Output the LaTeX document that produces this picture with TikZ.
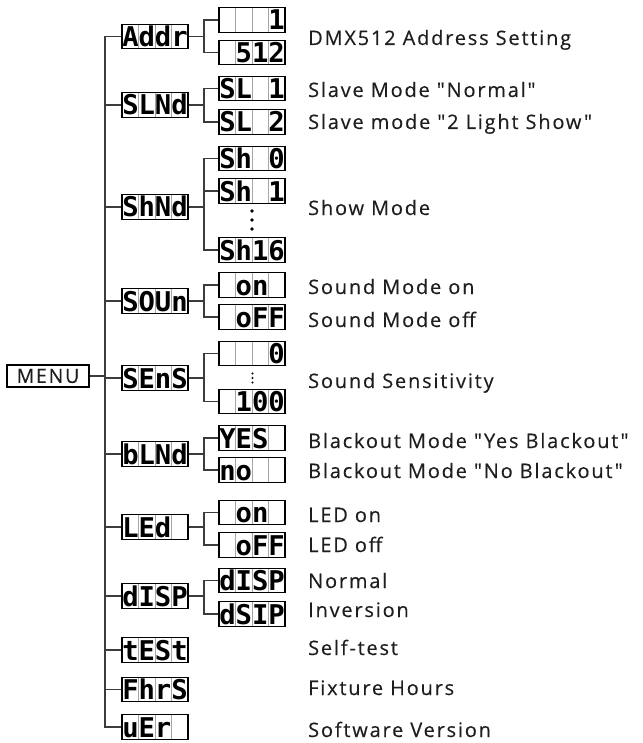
\documentclass[tikz,border=0pt]{standalone}
\usepackage{fontspec}
\setmainfont{Open Sans}
\newfontfamily\lcdfont{DejaVu Sans Mono}
\newfontfamily\lblfont{Open Sans}[LetterSpace=9,FakeBold=0.3]
\usetikzlibrary{calc}
\definecolor{ink}{HTML}{1E1E1E}
\definecolor{wire}{HTML}{3C3C3C}
\newcommand\bk{\hphantom{0}}
\begin{document}
\begin{tikzpicture}[x=1pt,y=-1pt,
  lcdbox/.style={draw=black, line width=1.3pt, fill=white,
    minimum width=66pt, minimum height=24.5pt, inner sep=0pt,
    text height=20pt, text depth=0pt,
    font=\lcdfont\bfseries\fontsize{27.2}{27.2}\selectfont,
    path picture={\foreach \k in {1,2,3}{\draw[black!35,line width=0.7pt]
      ($(path picture bounding box.south west)!\k/4!(path picture bounding box.south east)$) --
      ($(path picture bounding box.north west)!\k/4!(path picture bounding box.north east)$);}}},
  lbl/.style={anchor=base west, inner sep=0pt, text=ink,
    font=\lblfont\fontsize{20}{22}\selectfont},
  wire/.style={draw=wire, line width=1.3pt}]
\useasboundingbox (0,0) rectangle (642,743);
% menu
\node[draw=black, line width=1.2pt, minimum width=82pt, minimum height=22pt,
  inner sep=0pt, text=ink, font=\lblfont\fontsize{19.5}{21}\selectfont] (menu) at (48,376) {MENU};
\coordinate (T) at (105,0);
\coordinate (B) at (204,0);
% main items
\node[lcdbox] (addr) at (155,36.5) {Addr};
\node[lcdbox] (slnd) at (155,105) {SLNd};
\node[lcdbox] (shnd) at (155,207) {ShNd};
\node[lcdbox] (soun) at (155,301) {SOUn};
\node[lcdbox] (sens) at (155,378) {SEnS};
\node[lcdbox] (blnd) at (155,454) {bLNd};
\node[lcdbox] (led) at (155,527) {LEd\bk};
\node[lcdbox] (disp) at (155,596) {dISP};
\node[lcdbox] (test) at (155,650) {tESt};
\node[lcdbox] (fhrs) at (155,689.5) {FhrS};
\node[lcdbox] (uer) at (155,727) {uEr\bk};
% children
\node[lcdbox] (a1) at (252,20) {\bk\bk\bk1};
\node[lcdbox] (a2) at (252,52.5) {\bk512};
\node[lcdbox] (s1) at (252,88.5) {SL\bk1};
\node[lcdbox] (s2) at (252,122) {SL\bk2};
\node[lcdbox] (h0) at (252,158.5) {Sh\bk0};
\node[lcdbox] (h1) at (252,191) {Sh\bk1};
\node[lcdbox] (h16) at (252,250) {Sh16};
\node[lcdbox] (o1) at (252,285) {\bk on\bk};
\node[lcdbox] (o2) at (252,317) {\bk oFF};
\node[lcdbox] (n0) at (252,353.5) {\bk\bk\bk0};
\node[lcdbox] (n100) at (252,401.5) {\bk100};
\node[lcdbox] (y1) at (252,438) {YES\bk};
\node[lcdbox] (y2) at (252,470) {no\bk\bk};
\node[lcdbox] (l1) at (252,512.5) {\bk on\bk};
\node[lcdbox] (l2) at (252,545) {\bk oFF};
\node[lcdbox] (d1) at (252,580.5) {dISP};
\node[lcdbox] (d2) at (252,614) {dSIP};
% dots
\foreach \yy in {211,220,229} \fill[black] (252,\yy) circle (1.9pt);
\foreach \yy in {373.5,378,382.5} \fill[black] (252.5,\yy) circle (1.2pt);
% trunk
\draw[wire] (menu.east) -- (menu.east -| T);
\draw[wire] (addr.west) -- (addr.west -| T) -- (uer.west -| T) -- (uer.west);
\foreach \n in {slnd,shnd,soun,sens,blnd,led,disp,test,fhrs}
  \draw[wire] (\n.west) -- (\n.west -| T);
% branches
\foreach \p/\c/\d in {addr/a1/a2, slnd/s1/s2, shnd/h0/h16, soun/o1/o2, sens/n0/n100, blnd/y1/y2, led/l1/l2, disp/d1/d2}{
  \draw[wire] (\p.east) -- (\p.east -| B);
  \draw[wire] (\c.west) -- (\c.west -| B) -- (\d.west -| B) -- (\d.west);
}
\draw[wire] (h1.west) -- (h1.west -| B);
% labels
\node[lbl] (t1) at (308,45) {DMX512 Address Setting};
\node[lbl] (t2) at (308,97) {Slave Mode "Normal"};
\node[lbl] (t3) at (308,129) {Slave mode "2 Light Show"};
\node[lbl] (t4) at (308,215) {Show Mode};
\node[lbl] (t5) at (308,294) {Sound Mode on};
\node[lbl] (t6) at (308,327) {Sound Mode off};
\node[lbl] (t7) at (308,388) {Sound Sensitivity};
\node[lbl] (t8) at (308,448) {Blackout Mode "Yes Blackout"};
\node[lbl] (t9) at (308,478) {Blackout Mode "No Blackout"};
\node[lbl] (t10) at (308,522) {LED on};
\node[lbl] (t11) at (308,552) {LED off};
\node[lbl] (t12) at (308,588) {Normal};
\node[lbl] (t13) at (308,617) {Inversion};
\node[lbl] (t14) at (308,655) {Self-test};
\node[lbl] (t15) at (308,695) {Fixture Hours};
\node[lbl] (t16) at (308,737) {Software Version};
\end{tikzpicture}
\end{document}
